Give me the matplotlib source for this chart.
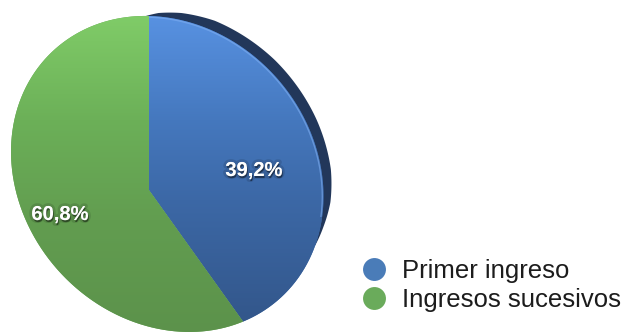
import numpy as np
import matplotlib
matplotlib.use("Agg")
import matplotlib.pyplot as plt
from matplotlib import transforms as mtransforms
from matplotlib.path import Path
from matplotlib.lines import Line2D
import matplotlib.patheffects as pe

# ---------------- data ----------------
categories = ["Primer ingreso", "Ingresos sucesivos"]
shares = [39.2, 60.8]

# ---------------- style ----------------
legend_colors = ["#4a7cb8", "#6aab5b"]
base_colors = ["#426fae", "#67a755"]
# vertical shading stops (pixel row, rgb) for each slice face
face_stops = [
    [(15, (88, 146, 226)), (120, (69, 120, 190)), (200, (60, 104, 166)), (333, (50, 85, 136))],
    [(15, (128, 204, 104)), (120, (108, 176, 88)), (220, (98, 157, 80)), (333, (92, 146, 75))],
]
rim_color = "#22375a"
highlight_color = "#7eaef2"
# thickness of the visible rim (pixels) along the disc angle (degrees)
rim_angle = [-10, -3, 5, 15, 30, 50, 70, 80, 87, 91]
rim_width = [0, 3, 7, 9.5, 10.5, 11, 10, 7, 3.5, 0]

W, H = 629, 333
CX, CY = 149.0, 190.0          # pie centre on the canvas (pixels)
plt.rcParams["font.family"] = ["Liberation Sans", "DejaVu Sans"]


class TiltedDisc(mtransforms.Transform):
    """Perspective view of the unit disc (u right, v up) onto pixel space (y down)."""
    input_dims = output_dims = 2
    is_separable = False
    has_inverse = False

    def __init__(self, cx, cy, top, sx, shear, gx, gy, samples=72):
        super().__init__()
        self.cx, self.cy, self.top = cx, cy, top
        self.sx, self.shear, self.gx, self.gy = sx, shear, gx, gy
        self.samples = samples

    def transform_non_affine(self, values):
        values = np.asarray(values, dtype=float).reshape(-1, 2)
        u, v = values[:, 0], values[:, 1]
        w = 1.0 + self.gx * u + self.gy * v
        x = self.cx + self.sx * u / w
        y = self.cy + (self.shear * u - self.top * (1.0 + self.gy) * v) / w
        return np.column_stack([x, y])

    def transform_path_non_affine(self, path):
        t = np.linspace(0.0, 1.0, self.samples)
        pieces = []
        for seg, _ in path.iter_bezier():
            pieces.append(seg(t) if seg.degree > 1 else seg(np.array([0.0, 1.0])))
        verts = np.concatenate(pieces)
        return Path(self.transform_non_affine(verts))


fig = plt.figure(figsize=(W / 100, H / 100), dpi=100)
ax = fig.add_axes([0, 0, 1, 1])

wedges, _, pct_texts = ax.pie(
    shares,
    startangle=90,
    counterclock=False,
    colors=base_colors,
    radius=1.0,
    center=(0, 0),
    autopct=lambda p: f"{p:.1f}%".replace(".", ","),
    wedgeprops=dict(linewidth=0),
)

disc = TiltedDisc(CX, CY, top=174.0, sx=153.0, shear=24.0, gx=-0.116, gy=-0.12)
front = disc + ax.transData

# rim of the disc showing on the upper right
ang = np.linspace(rim_angle[0], rim_angle[-1], 300)
edge = disc.transform(np.column_stack([np.cos(np.radians(ang)), np.sin(np.radians(ang))]))
tang = np.gradient(edge, axis=0)
normal = np.column_stack([tang[:, 1], -tang[:, 0]])
normal /= np.linalg.norm(normal, axis=1)[:, None]
outward = np.sign(np.sum(normal * (edge - [CX, CY]), axis=1))[:, None]
normal *= outward
thick = np.interp(ang, rim_angle, rim_width)
outer = edge + normal * thick[:, None]
inner = edge - normal * 1.5
band = np.vstack([inner, outer[::-1]])
ax.fill(band[:, 0], band[:, 1], color=rim_color, linewidth=0, zorder=0.5)

# shaded faces
rows = np.arange(H) + 0.5
for w, stops in zip(wedges, face_stops):
    w.set_transform(front)
    w.set_zorder(1)
    ys = [s[0] for s in stops]
    rgb = np.stack([np.interp(rows, ys, [s[1][i] for s in stops]) for i in range(3)], axis=-1) / 255.0
    img = np.repeat(rgb[:, None, :], W, axis=1)
    im = ax.imshow(img, extent=(0, W, H, 0), interpolation="bilinear", aspect="auto", zorder=1.1)
    im.set_clip_path(w)

# light edge where the blue face meets the rim
blue = wedges[0]
th = np.radians(np.linspace(0, blue.theta2, 120))
ax.add_line(Line2D(0.994 * np.cos(th), 0.994 * np.sin(th), transform=front,
                   color=highlight_color, linewidth=1.0, alpha=0.6, zorder=1.3,
                   solid_capstyle="butt"))

# percentage labels
label_anchor = [(254, 176), (60, 220)]
for txt, (x, y) in zip(pct_texts, label_anchor):
    txt.set_transform(ax.transData)
    txt.set_position((x, y))
    txt.set_ha("center")
    txt.set_va("baseline")
    txt.set_color("white")
    txt.set_fontsize(14.5)
    txt.set_fontweight("bold")
    txt.set_zorder(3)
    txt.set_path_effects([
        pe.Stroke(linewidth=4, foreground=(0, 0, 0, 0.12)),
        pe.SimplePatchShadow(offset=(0.6, -1.4), shadow_rgbFace="black", alpha=0.45),
        pe.Normal(),
    ])

ax.set_aspect("auto")
ax.set_xlim(0, W)
ax.set_ylim(H, 0)
ax.axis("off")

handles = [Line2D([], [], linestyle="", marker="o", markersize=16.5,
                  markerfacecolor=c, markeredgecolor="none") for c in legend_colors]
ax.legend(handles, categories, loc="upper left", bbox_to_anchor=(361.5, 259),
          bbox_transform=ax.transData, frameon=False, fontsize=18.5,
          handlelength=0.95, handletextpad=0.62, labelspacing=0.19,
          borderpad=0, borderaxespad=0, labelcolor="#1c1c1c")

fig.savefig("out.png", dpi=100)
